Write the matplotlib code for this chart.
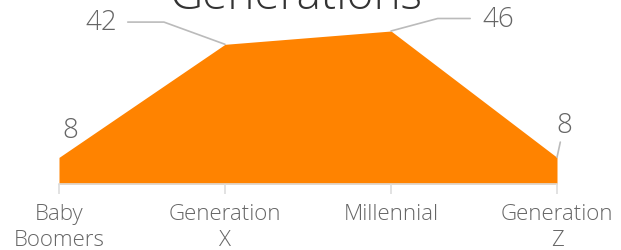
import matplotlib.pyplot as plt

categories = ['Baby\nBoomers', 'Generation\nX', 'Millennial', 'Generation\nZ']
values = [8, 42, 46, 8]
title = 'Generations'

orange = '#FF8300'
gray_text = '#666666'
line_gray = '#BBBBBB'

plt.rcParams['font.family'] = ['Open Sans', 'DejaVu Sans']
plt.rcParams['font.weight'] = 'light'

fig = plt.figure(figsize=(6.21, 2.51), dpi=100)
ax = fig.add_axes([59 / 621, 66 / 251, 498 / 621, 166.3 / 251])

x = list(range(len(values)))
ax.fill_between(x, values, 0, color=orange, linewidth=0)
ax.set_xlim(0, 3)
ax.set_ylim(0, 50)

for s in ['top', 'right', 'left']:
    ax.spines[s].set_visible(False)
ax.spines['bottom'].set_color('#DDDDDD')
ax.spines['bottom'].set_linewidth(1.2)
ax.set_yticks([])
ax.set_xticks(x)
ax.set_xticklabels(categories, fontsize=16, color=gray_text, linespacing=1.3)
ax.tick_params(axis='x', length=7, color='#DDDDDD', width=1.2, pad=7)

# data labels with leader lines
label_kw = dict(fontsize=20, color=gray_text, annotation_clip=False)
ax.annotate(str(values[0]), (0, values[0]), xytext=(8, 10), textcoords='offset points',
            ha='center', va='bottom', **label_kw)
ax.annotate(str(values[1]), (1, values[1]), xytext=(-78, 16), textcoords='offset points',
            ha='right', va='center',
            arrowprops=dict(arrowstyle='-', color=line_gray, lw=1.2,
                            connectionstyle='angle,angleA=0,angleB=160,rad=0',
                            shrinkA=6, shrinkB=0), **label_kw)
ax.annotate(str(values[2]), (2, values[2]), xytext=(66, 9), textcoords='offset points',
            ha='left', va='center',
            arrowprops=dict(arrowstyle='-', color=line_gray, lw=1.2,
                            connectionstyle='angle,angleA=0,angleB=15,rad=0',
                            shrinkA=7, shrinkB=0), **label_kw)
ax.annotate(str(values[3]), (3, values[3]), xytext=(5, 13), textcoords='offset points',
            ha='center', va='bottom',
            arrowprops=dict(arrowstyle='-', color=line_gray, lw=1.2, shrinkA=0, shrinkB=0),
            **label_kw)

fig.text(296 / 621, 1.105, title, ha='center', va='top', fontsize=33, color='#333333')

fig.savefig('out.png', dpi=100)
